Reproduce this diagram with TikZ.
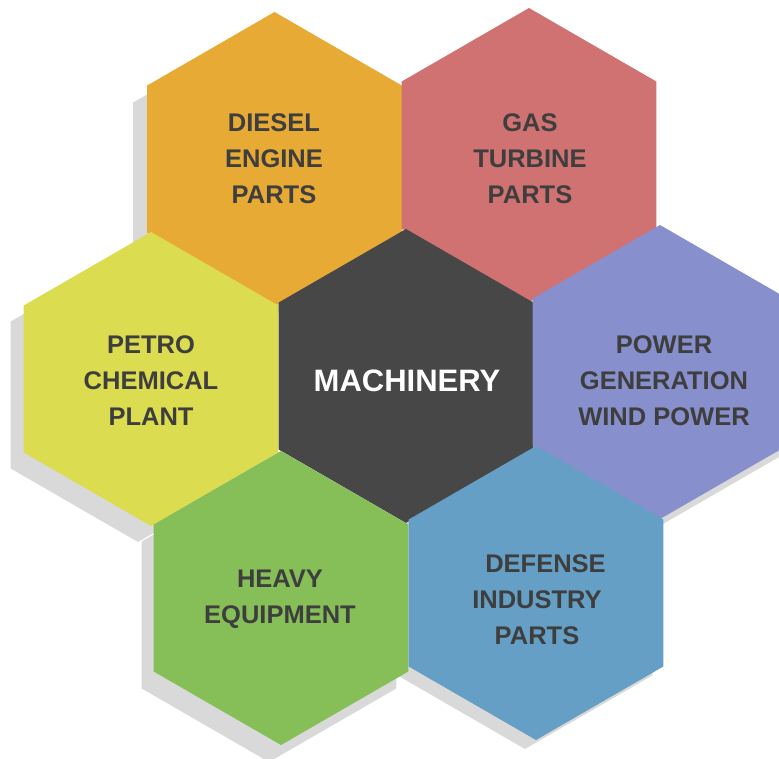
\documentclass[tikz,border=0pt]{standalone}
\usepackage{fontspec}
\setmainfont{Liberation Sans}
\usetikzlibrary{shapes.geometric}

\definecolor{cDiesel}{HTML}{E6AA35}
\definecolor{cGas}{HTML}{D07271}
\definecolor{cPetro}{HTML}{DCDC50}
\definecolor{cCore}{HTML}{474747}
\definecolor{cPower}{HTML}{878FCC}
\definecolor{cHeavy}{HTML}{86BF58}
\definecolor{cDefense}{HTML}{659FC5}
\definecolor{cShadow}{HTML}{D9D9D9}
\definecolor{cText}{HTML}{3E3E3E}

\tikzset{
  hexa/.style={regular polygon, regular polygon sides=6, regular polygon rotate=30,
               minimum size=294pt, inner sep=0pt, outer sep=0pt, draw=none},
  hexshadow/.style={hexa, fill=cShadow},
  label text/.style={align=center, inner sep=0pt, text=cText,
                     font=\fontsize{25.5}{36}\selectfont\bfseries},
  core text/.style={inner sep=0pt, text=white,
                    font=\fontsize{31}{36}\selectfont\bfseries}
}

\begin{document}
\begin{tikzpicture}[x=1pt,y=-1pt]
\useasboundingbox (0,0) rectangle (779,758);

% drop shadows, all drawn first so no tile is covered
\foreach \n/\cx/\cy/\dx/\dy in {diesel/274.5/159/-14/17, gas/529/155/-10/12,
    petro/151/379/-13/16, power/660/372/-4/9, heavy/281/598/-12/17,
    defense/536/593/-11/9}
  \node[hexshadow] (sh-\n) at ({\cx+\dx},{\cy+\dy}) {};

% coloured tiles
\foreach \n/\cx/\cy/\col in {diesel/274.5/159/cDiesel, gas/529/155/cGas,
    petro/151/379/cPetro, core/406/376/cCore, power/660/372/cPower,
    heavy/281/598/cHeavy, defense/536/593/cDefense}
  \node[hexa, fill=\col] (hex-\n) at (\cx,\cy) {};

% tile captions
\node[label text] (t-diesel)  at (274,159)   {DIESEL\\ENGINE\\PARTS};
\node[label text] (t-gas)     at (530,159)   {GAS\\TURBINE\\PARTS};
\node[label text] (t-petro)   at (151,381)   {PETRO\\CHEMICAL\\PLANT};
\node[core text]  (t-core)    at (407,381)   {MACHINERY};
\node[label text] (t-power)   at (664,381)   {POWER\\GENERATION\\WIND POWER};
\node[label text] (t-heavy)   at (280,599.5) {HEAVY\\EQUIPMENT};
\node[label text] (t-defense) at (537,599.7) {\hspace*{17pt}DEFENSE\\INDUSTRY\\PARTS};
\end{tikzpicture}
\end{document}
